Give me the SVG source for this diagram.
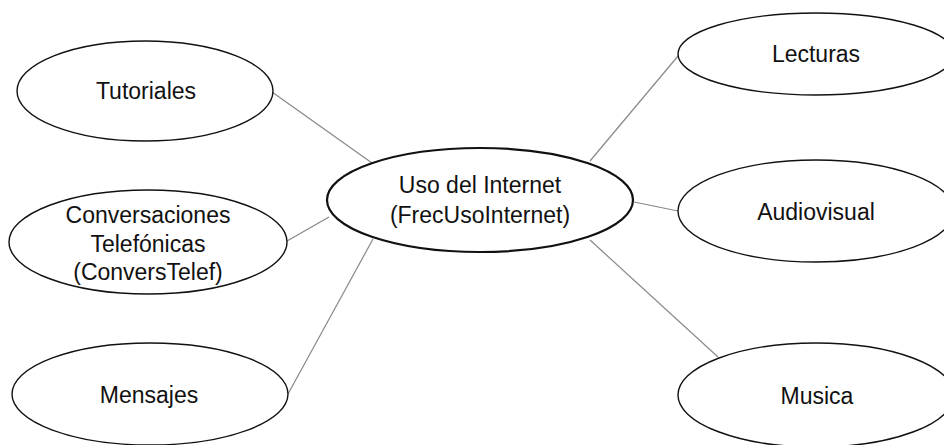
<svg xmlns="http://www.w3.org/2000/svg" width="944" height="445" viewBox="0 0 944 445">
<style>
.n ellipse{fill:#fff;stroke:#111;stroke-width:1.4}
#center ellipse{stroke-width:2.2}
text{font-family:"Liberation Sans",Arial,sans-serif;font-size:23px;fill:#111;text-anchor:middle}
#connectors line{stroke:#888;stroke-width:1.2}
</style>
<rect width="944" height="445" fill="#fff"/>
<g id="connectors">
<line x1="272" y1="92" x2="372" y2="163"/>
<line x1="287" y1="241" x2="329" y2="217"/>
<line x1="288" y1="394" x2="373" y2="239"/>
<line x1="678" y1="56" x2="590" y2="161"/>
<line x1="634" y1="202" x2="678" y2="211"/>
<line x1="590" y1="240" x2="718" y2="357"/>
</g>
<g id="tutoriales" class="n"><ellipse cx="145" cy="91" rx="128" ry="50"/><text x="146" y="99">Tutoriales</text></g>
<g id="conversaciones" class="n"><ellipse cx="148" cy="242" rx="139" ry="52"/><text x="148" y="223">Conversaciones</text><text x="148" y="252">Telefónicas</text><text x="148" y="280">(ConversTelef)</text></g>
<g id="mensajes" class="n"><ellipse cx="150" cy="394" rx="138" ry="51"/><text x="149" y="403">Mensajes</text></g>
<g id="center" class="n"><ellipse cx="480" cy="200" rx="153" ry="52"/><text x="480" y="193">Uso del Internet</text><text x="480" y="223">(FrecUsoInternet)</text></g>
<g id="lecturas" class="n"><ellipse cx="816" cy="54" rx="138" ry="41"/><text x="816" y="62">Lecturas</text></g>
<g id="audiovisual" class="n"><ellipse cx="816" cy="211" rx="138" ry="51"/><text x="816" y="220">Audiovisual</text></g>
<g id="musica" class="n"><ellipse cx="816" cy="395" rx="138" ry="52"/><text x="817" y="404">Musica</text></g>
</svg>
